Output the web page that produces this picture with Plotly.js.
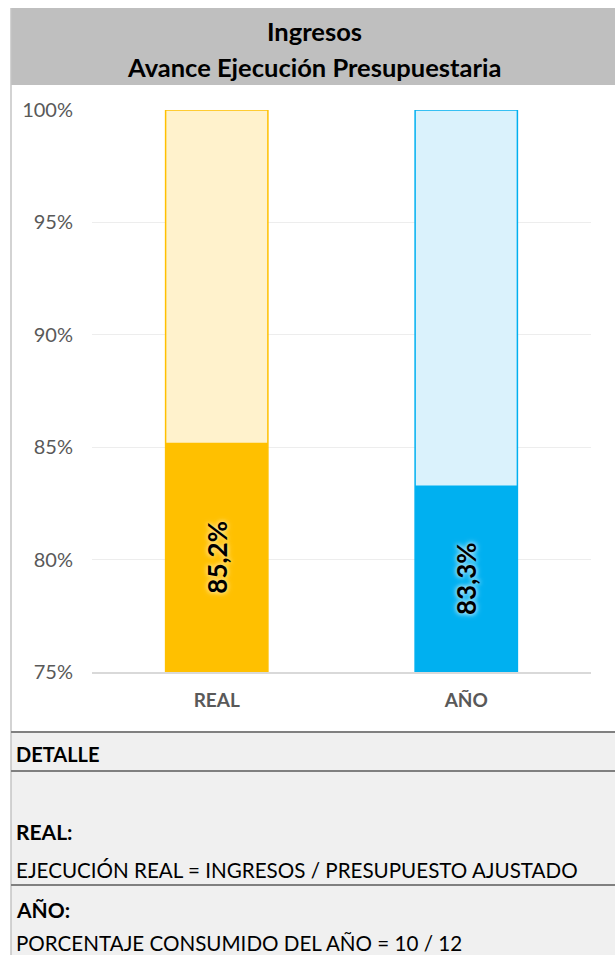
<!DOCTYPE html>
<html>
<head>
<meta charset="utf-8">
<script src="https://cdn.plot.ly/plotly-3.0.1.min.js"></script>
<style>
  html, body { margin: 0; padding: 0; background: #ffffff; }
  #chart { width: 615px; height: 955px; }
</style>
</head>
<body>
<div id="chart"></div>
<script>
// ---- data ----
const categories = ['REAL', 'AÑO'];
const executed = [85.2, 83.3];
const totals = [100, 100];
const yMin = 75, yMax = 100;
const yTicks = [75, 80, 85, 90, 95, 100];
const titleLines = ['Ingresos', 'Avance Ejecución Presupuestaria'];
const detailHeader = 'DETALLE';
const detailItems = [
  ['REAL:', 'EJECUCIÓN REAL = INGRESOS / PRESUPUESTO AJUSTADO'],
  ['AÑO:', 'PORCENTAJE CONSUMIDO DEL AÑO = 10 / 12']
];

// ---- styles ----
const darkColors = ['#FFC000', '#00B0F0'];
const lightColors = ['#FFF2CC', '#DAF2FC'];
const glowColors = ['#FFE699', '#BDE9FA'];
const FONT = 'Lato, "Open Sans", sans-serif';

const W = 615, H = 955;
const M = { l: 92, r: 24, t: 110, b: 283 };
const PW = W - M.l - M.r, PH = H - M.t - M.b;
const px = x => (x - M.l) / PW;            // pixel x -> paper
const py = y => 1 - (y - M.t) / PH;        // pixel y -> paper

const traces = [];
// full-budget bars (light), starting at the axis floor
traces.push({
  type: 'bar', x: categories, base: yMin, y: totals.map(v => v - yMin), width: 0.41,
  marker: { color: lightColors, line: { color: darkColors, width: 1.5 } },
  cliponaxis: false, hoverinfo: 'skip', showlegend: false
});
// executed bars (dark)
categories.forEach((c, i) => {
  traces.push({
    type: 'bar', x: [c], base: yMin, y: [executed[i] - yMin], width: 0.41,
    customdata: [executed[i]],
    marker: { color: darkColors[i], line: { width: 0 } },
    texttemplate: '<b>%{customdata:.1f}%</b>', textposition: 'inside',
    insidetextanchor: 'middle', textangle: -90,
    textfont: { family: FONT, size: 26, color: '#000000', weight: 'bold',
                shadow: `0 0 4px ${glowColors[i]}, 0 0 6px ${glowColors[i]}` },
    constraintext: 'none', cliponaxis: false, showlegend: false, hoverinfo: 'skip'
  });
});

const shapes = [
  { type: 'rect', xref: 'paper', yref: 'paper', x0: px(11), x1: px(620), y0: py(8), y1: py(85),
    fillcolor: '#BFBFBF', line: { width: 0 }, layer: 'below' },
  { type: 'rect', xref: 'paper', yref: 'paper', x0: px(11), x1: px(620), y0: py(732), y1: py(960),
    fillcolor: '#F0F0F0', line: { width: 0 }, layer: 'below' },
  { type: 'line', xref: 'paper', yref: 'paper', x0: px(11), x1: px(11), y0: py(8), y1: py(960),
    line: { color: '#C4C4C4', width: 1.5 } }
];
[732, 771, 885].forEach(y => shapes.push({
  type: 'line', xref: 'paper', yref: 'paper', x0: px(11), x1: px(620), y0: py(y), y1: py(y),
  line: { color: '#808080', width: 2 }
}));

const annotations = [];
titleLines.forEach((t, i) => annotations.push({
  xref: 'paper', yref: 'paper', x: px(314), y: py([31, 67][i]), xanchor: 'center', yanchor: 'middle',
  text: t, showarrow: false, font: { family: FONT, size: 25.5, color: '#000000', weight: 'bold' }
}));
annotations.push({
  xref: 'paper', yref: 'paper', x: px(14), y: py(754), xanchor: 'left', yanchor: 'middle',
  text: detailHeader, showarrow: false, font: { family: FONT, size: 20, color: '#000000', weight: 'bold' }
});
detailItems.forEach((it, i) => {
  const yHead = [831, 909][i], yBody = [870, 943][i];
  annotations.push({
    xref: 'paper', yref: 'paper', x: px(14), y: py(yHead), xanchor: 'left', yanchor: 'middle',
    text: it[0], showarrow: false, font: { family: FONT, size: 21, color: '#000000', weight: 'bold' }
  });
  annotations.push({
    xref: 'paper', yref: 'paper', x: px(14), y: py(yBody), xanchor: 'left', yanchor: 'middle',
    text: it[1], showarrow: false, font: { family: FONT, size: 20.6, color: '#000000' }
  });
});

const layout = {
  width: W, height: H, margin: M,
  paper_bgcolor: '#FFFFFF', plot_bgcolor: '#FFFFFF',
  barmode: 'overlay', separators: ',.',
  font: { family: FONT },
  xaxis: {
    type: 'category', showgrid: false, zeroline: false,
    showline: true, linecolor: '#D9D9D9', linewidth: 1.5,
    tickfont: { family: FONT, size: 19, color: '#595959', weight: 'bold' },
    ticklabelstandoff: 11, fixedrange: true
  },
  yaxis: {
    range: [yMin, yMax], tickvals: yTicks, ticktext: yTicks.map(v => v + '%'),
    showgrid: true, gridcolor: '#EDEDED', gridwidth: 1, zeroline: false, showline: false,
    tickfont: { family: FONT, size: 20, color: '#595959' },
    ticklabelstandoff: 18, fixedrange: true
  },
  shapes: shapes, annotations: annotations
};

Plotly.newPlot('chart', traces, layout, { displayModeBar: false, staticPlot: true });
</script>
</body>
</html>
